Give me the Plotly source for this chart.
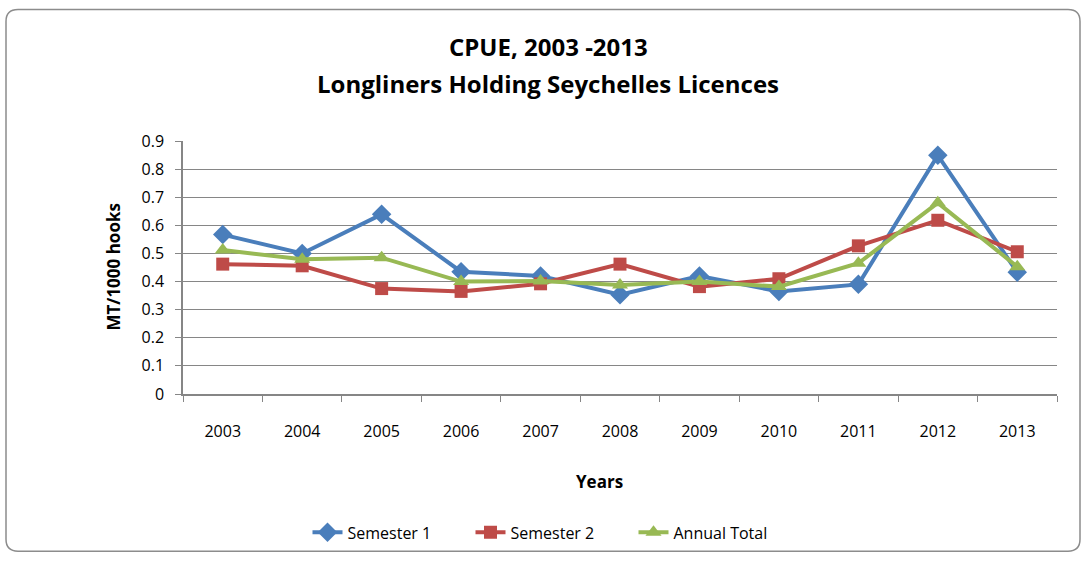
import plotly.graph_objects as go

years = ["2003", "2004", "2005", "2006", "2007", "2008", "2009", "2010", "2011", "2012", "2013"]
semester1 = [0.567, 0.500, 0.639, 0.435, 0.420, 0.353, 0.420, 0.365, 0.390, 0.849, 0.433]
semester2 = [0.462, 0.456, 0.375, 0.365, 0.392, 0.462, 0.382, 0.410, 0.527, 0.618, 0.506]
annual_total = [0.512, 0.479, 0.485, 0.400, 0.402, 0.388, 0.400, 0.382, 0.465, 0.680, 0.453]
y_ticks = [0, 0.1, 0.2, 0.3, 0.4, 0.5, 0.6, 0.7, 0.8, 0.9]
y_tick_labels = ["0", "0.1", "0.2", "0.3", "0.4", "0.5", "0.6", "0.7", "0.8", "0.9"]

W, H = 1086, 561
L, R, T, B = 183, 29, 141, 164
pw, ph = W - L - R, H - T - B

def px2x(px):
    return (px - L) / pw

def py2y(py):
    return 1 - (py - T) / ph

FONT = "Liberation Sans Narrow, Open Sans, Arial, sans-serif"
TICKFONT = "Open Sans, Arial, sans-serif"

fig = go.Figure()
fig.add_trace(go.Scatter(x=years, y=semester1, name="Semester 1", mode="lines+markers",
                         line=dict(color="#4A7EBB", width=4),
                         marker=dict(symbol="diamond", size=15, color="#4A7EBB")))
fig.add_trace(go.Scatter(x=years, y=semester2, name="Semester 2", mode="lines+markers",
                         line=dict(color="#BE4B48", width=4),
                         marker=dict(symbol="square", size=13, color="#BE4B48")))
fig.add_trace(go.Scatter(x=years, y=annual_total, name="Annual Total", mode="lines+markers",
                         line=dict(color="#98B954", width=4),
                         marker=dict(symbol="triangle-up", size=14, color="#98B954")))

# rounded border
x0, x1 = px2x(6), px2x(1080)
y0, y1 = py2y(556), py2y(8)
rx, ry = 12 / pw, 12 / ph
path = (f"M {x0+rx},{y1} L {x1-rx},{y1} Q {x1},{y1} {x1},{y1-ry} "
        f"L {x1},{y0+ry} Q {x1},{y0} {x1-rx},{y0} L {x0+rx},{y0} "
        f"Q {x0},{y0} {x0},{y0+ry} L {x0},{y1-ry} Q {x0},{y1} {x0+rx},{y1} Z")
fig.add_shape(type="path", path=path, xref="paper", yref="paper",
              line=dict(color="#8C8C8C", width=1.5), fillcolor="rgba(0,0,0,0)", layer="below")

fig.add_annotation(text="<b>CPUE, 2003 -2013</b>", xref="paper", yref="paper",
                   x=px2x(548), y=py2y(45), showarrow=False,
                   font=dict(family=FONT, size=24, color="#000"), xanchor="center", yanchor="middle")
fig.add_annotation(text="<b>Longliners Holding Seychelles Licences</b>", xref="paper", yref="paper",
                   x=px2x(548), y=py2y(83), showarrow=False,
                   font=dict(family=FONT, size=24, color="#000"), xanchor="center", yanchor="middle")
fig.add_annotation(text="<b>Years</b>", xref="paper", yref="paper",
                   x=px2x(599), y=py2y(486), showarrow=False,
                   font=dict(family=FONT, size=17, color="#000"), xanchor="center", yanchor="middle")
fig.add_annotation(text="<b>MT/1000 hooks</b>", xref="paper", yref="paper",
                   x=px2x(113), y=py2y(269), showarrow=False, textangle=-90,
                   font=dict(family=FONT, size=17, color="#000"), xanchor="center", yanchor="middle")

fig.update_layout(
    width=W, height=H,
    margin=dict(l=L, r=R, t=T, b=B),
    paper_bgcolor="white", plot_bgcolor="white",
    showlegend=True,
    legend=dict(orientation="h", x=px2x(552), y=py2y(537), xanchor="center", yanchor="middle",
                font=dict(family=TICKFONT, size=16, color="#000"), itemwidth=30,
                entrywidth=118, entrywidthmode="pixels",
                bgcolor="rgba(0,0,0,0)"),
    xaxis=dict(type="category", tickson="boundaries", ticks="outside", ticklen=6,
               tickcolor="#868686", showline=True, linecolor="#868686", linewidth=1.5,
               showgrid=False, tickfont=dict(family=TICKFONT, size=16, color="#000"),
               ticklabelstandoff=22, range=[-0.5, 10.5]),
    yaxis=dict(range=[0, 0.9], tickvals=y_ticks, ticktext=y_tick_labels, ticks="outside", ticklen=6,
               tickcolor="#868686", showline=True, linecolor="#868686", linewidth=1.5,
               showgrid=True, gridcolor="#868686", gridwidth=1.3, zeroline=False,
               tickfont=dict(family=TICKFONT, size=16, color="#000"), ticklabelstandoff=8),
)

fig.write_html("out.html", config={"displayModeBar": False},
               post_script="document.body.style.margin='0';document.body.style.padding='0';")
